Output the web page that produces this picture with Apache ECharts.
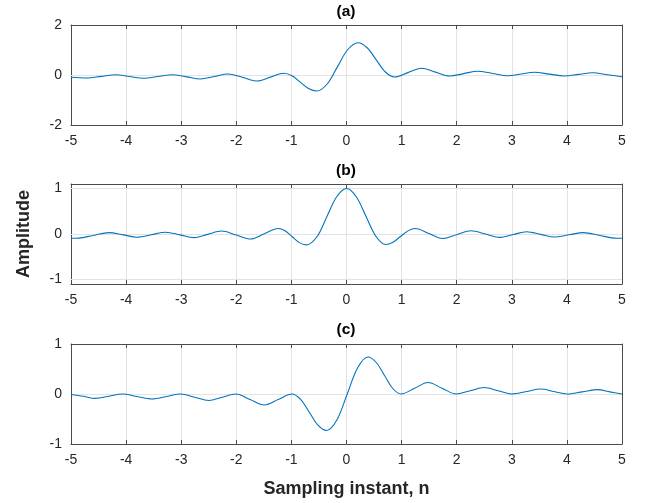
<!DOCTYPE html>
<html>
<head>
<meta charset="utf-8">
<script src="https://cdn.jsdelivr.net/npm/echarts@6/dist/echarts.min.js"></script>
<style>html,body{margin:0;padding:0;background:#fff}#c{width:651px;height:503px}</style>
</head>
<body>
<div id="c"></div>
<script>
// ---- data (sampling instant n, amplitude) ----
const panelTitles = ['(a)', '(b)', '(c)'];
const xLabel = 'Sampling instant, n';
const yLabel = 'Amplitude';
const xTicks = [-5, -4, -3, -2, -1, 0, 1, 2, 3, 4, 5];
const aTicks = [-2, 0, 2];
const bTicks = [-1, 0, 1];
const cTicks = [-1, 0, 1];

const curveA = [
  [-5.00,-0.09],[-4.71,-0.12],[-4.45,-0.055],[-4.19,0.01],[-3.94,-0.06],[-3.68,-0.13],
  [-3.42,-0.06],[-3.16,0.01],[-2.90,-0.075],[-2.65,-0.16],[-2.40,-0.06],[-2.15,0.04],
  [-1.88,-0.10],[-1.62,-0.24],[-1.38,-0.085],[-1.14,0.07],[-0.99,-0.03],[-0.84,-0.285],
  [-0.69,-0.54],[-0.54,-0.64],[-0.35,-0.36],[-0.165,0.325],[0.02,1.01],[0.21,1.29],
  [0.375,1.09],[0.54,0.605],[0.705,0.12],[0.87,-0.08],[1.115,0.095],[1.36,0.27],
  [1.615,0.115],[1.87,-0.04],[2.125,0.055],[2.38,0.15],[2.655,0.06],[2.93,-0.03],
  [3.17,0.04],[3.41,0.11],[3.68,0.035],[3.95,-0.04],[4.21,0.025],[4.47,0.09],
  [4.74,0.01],[5.00,-0.07]
];
const curveB = [
  [-5.00,-0.093],[-4.90,-0.095],[-4.60,-0.032],[-4.31,0.03],[-4.05,-0.02],[-3.80,-0.07],
  [-3.54,-0.015],[-3.28,0.04],[-3.02,-0.02],[-2.77,-0.08],[-2.52,-0.008],[-2.27,0.065],
  [-2.00,-0.022],[-1.74,-0.11],[-1.49,0.005],[-1.24,0.12],[-1.115,0.07],[-0.985,-0.06],
  [-0.855,-0.19],[-0.73,-0.24],[-0.5325,-0.055],[-0.355,0.385],[-0.1775,0.82],[0,1.0],
  [0.1775,0.82],[0.355,0.385],[0.5325,-0.05],[0.71,-0.23],[0.845,-0.18],[0.98,-0.055],
  [1.115,0.069],[1.25,0.12],[1.495,0.01],[1.74,-0.10],[2.00,-0.015],[2.26,0.07],
  [2.52,0.0],[2.78,-0.075],[3.025,-0.012],[3.27,0.05],[3.525,-0.008],[3.78,-0.065],
  [4.04,-0.018],[4.30,0.03],[4.60,-0.032],[4.90,-0.095],[5.00,-0.093]
];
const curveC = [
  [-5.00,-0.01],[-4.78,-0.045],[-4.56,-0.087],[-4.31,-0.045],[-4.07,0.0],[-3.80,-0.05],
  [-3.53,-0.10],[-3.27,-0.05],[-3.01,0.0],[-2.755,-0.065],[-2.50,-0.13],[-2.255,-0.065],
  [-2.01,0.0],[-1.75,-0.11],[-1.49,-0.22],[-1.24,-0.11],[-0.99,0.0],[-0.8325,-0.107],
  [-0.675,-0.365],[-0.5175,-0.623],[-0.36,-0.73],[-0.1725,-0.515],[0.015,0.005],
  [0.2025,0.525],[0.39,0.74],[0.54,0.63],[0.69,0.37],[0.84,0.11],[0.99,0.0],
  [1.235,0.115],[1.48,0.23],[1.735,0.115],[1.99,0.0],[2.245,0.065],[2.50,0.13],
  [2.75,0.065],[3.00,0.0],[3.265,0.05],[3.53,0.10],[3.765,0.05],[4.00,0.0],
  [4.28,0.043],[4.56,0.087],[4.78,0.043],[5.00,0.0]
];

// ---- chart ----
const FONT = '"Liberation Sans", Arial, Helvetica, sans-serif';
const AXIS_COLOR = '#4a4a4a';
const GRID_COLOR = '#e3e3e3';
const TEXT_COLOR = '#262626';
const LINE_COLOR = '#0072BD';

const panels = [
  {data: curveA, ticks: aTicks, min: -2, max: 2, top: 25, titleTop: 4},
  {data: curveB, ticks: bTicks, min: -1.1, max: 1.1, top: 184, titleTop: 163},
  {data: curveC, ticks: cTicks, min: -1, max: 1, top: 344, titleTop: 322}
];

const grid = [], xAxis = [], yAxis = [], series = [], title = [];
panels.forEach((p, i) => {
  grid.push({left: 71, right: 29, top: p.top, height: 100});
  title.push({text: panelTitles[i], left: 346, top: p.titleTop, textAlign: 'center', padding: 0,
    textStyle: {fontFamily: FONT, fontSize: 15.5, fontWeight: 'bold', color: '#000'}});
});
// bottom x axes
panels.forEach((p, i) => {
  xAxis.push({
    type: 'value', gridIndex: i, position: 'bottom', min: xTicks[0], max: xTicks[xTicks.length - 1], interval: 1,
    axisLine: {show: true, onZero: false, lineStyle: {color: AXIS_COLOR, width: 1}},
    axisTick: {show: true, inside: true, length: 4, lineStyle: {color: AXIS_COLOR}},
    axisLabel: {show: true, margin: 9, fontFamily: FONT, fontSize: 14, color: TEXT_COLOR},
    splitLine: {show: true, lineStyle: {color: GRID_COLOR, width: 1}},
    name: i === 2 ? xLabel : '', nameLocation: 'middle', nameGap: 36,
    nameTextStyle: {fontFamily: FONT, fontSize: 18, fontWeight: 'bold', color: TEXT_COLOR}
  });
});
// top x axes (box)
panels.forEach((p, i) => {
  xAxis.push({
    type: 'value', gridIndex: i, position: 'top', min: xTicks[0], max: xTicks[xTicks.length - 1], interval: 1,
    axisLine: {show: true, onZero: false, lineStyle: {color: AXIS_COLOR, width: 1}},
    axisTick: {show: true, inside: true, length: 4, lineStyle: {color: AXIS_COLOR}},
    axisLabel: {show: false}, splitLine: {show: false}
  });
});
// left y axes
panels.forEach((p, i) => {
  yAxis.push({
    type: 'value', gridIndex: i, position: 'left', min: p.min, max: p.max,
    axisLine: {show: true, onZero: false, lineStyle: {color: AXIS_COLOR, width: 1}},
    axisTick: {show: true, inside: true, length: 4, customValues: p.ticks, lineStyle: {color: AXIS_COLOR}},
    axisLabel: {show: true, margin: 9, customValues: p.ticks, fontFamily: FONT, fontSize: 14, color: TEXT_COLOR},
    splitLine: {show: false},
    name: i === 1 ? yLabel : '', nameLocation: 'middle', nameGap: 38, nameRotate: 90,
    nameTextStyle: {fontFamily: FONT, fontSize: 18, fontWeight: 'bold', color: TEXT_COLOR}
  });
});
// right y axes (box)
panels.forEach((p, i) => {
  yAxis.push({
    type: 'value', gridIndex: i, position: 'right', min: p.min, max: p.max,
    axisLine: {show: true, onZero: false, lineStyle: {color: AXIS_COLOR, width: 1}},
    axisTick: {show: true, inside: true, length: 4, customValues: p.ticks, lineStyle: {color: AXIS_COLOR}},
    axisLabel: {show: false}, splitLine: {show: false}
  });
});
panels.forEach((p, i) => {
  series.push({
    type: 'line', xAxisIndex: i, yAxisIndex: i, data: p.data, showSymbol: false,
    smooth: 0.34,
    lineStyle: {color: LINE_COLOR, width: 1.1}, z: 3, silent: true,
    markLine: {silent: true, symbol: 'none', label: {show: false}, animation: false,
      lineStyle: {color: GRID_COLOR, width: 1, type: 'solid'}, z: 1,
      data: p.ticks.filter(t => t > p.min && t < p.max).map(t => ({yAxis: t}))}
  });
});

const chart = echarts.init(document.getElementById('c'), null, {renderer: 'canvas'});
chart.setOption({animation: false, backgroundColor: '#fff', title, grid, xAxis, yAxis, series});
</script>
</body>
</html>
